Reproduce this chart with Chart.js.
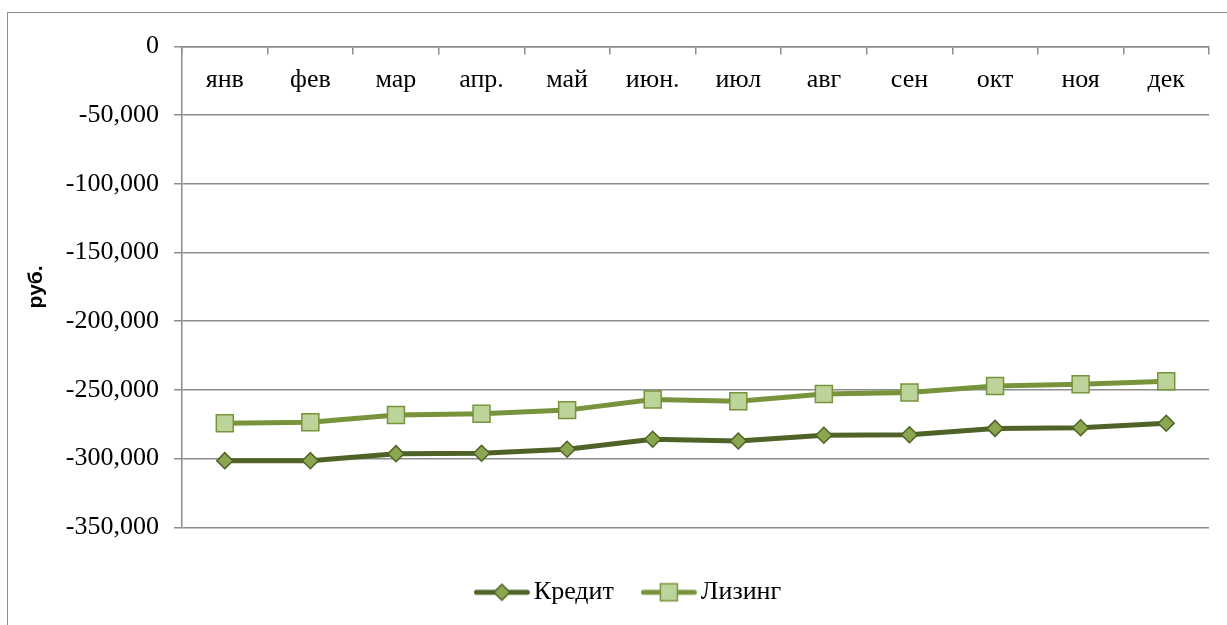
<!DOCTYPE html>
<html><head><meta charset="utf-8">
<script src="https://cdn.jsdelivr.net/npm/chart.js"></script>
<style>
html,body{margin:0;padding:0;background:#fff;overflow:hidden;width:1227px;height:625px}
#frame{position:absolute;left:7px;top:12px;width:1400px;height:800px;border:1px solid #8c8c8c;box-sizing:border-box}
#wrap{position:absolute;left:0;top:0;width:1227px;height:625px}
</style></head><body>
<div id="frame"></div>
<div id="wrap"><canvas id="c"></canvas></div>
<script>
const categories = ['янв','фев','мар','апр.','май','июн.','июл','авг','сен','окт','ноя','дек'];
const kredit = [-301500, -301500, -296400, -296100, -293200, -285900, -287200, -283000, -282600, -278000, -277500, -274300];
const lizing = [-274300, -273600, -268300, -267400, -264700, -256900, -258200, -252900, -251900, -247100, -245800, -243700];
const seriesNames = ['Кредит', 'Лизинг'];
const yAxisTitle = 'руб.';

const serif = 'Liberation Serif';
const grey = '#8c8c8c';

function diamond(g, x, y, r) {
  g.beginPath(); g.moveTo(x, y - r); g.lineTo(x + r, y); g.lineTo(x, y + r); g.lineTo(x - r, y); g.closePath();
  g.fillStyle = '#8aa64f'; g.fill(); g.lineWidth = 1.5; g.strokeStyle = '#4f6228'; g.stroke();
}
function square(g, x, y, s) {
  g.fillStyle = '#bcd39a'; g.fillRect(x - s / 2, y - s / 2, s, s);
  g.lineWidth = 1.5; g.strokeStyle = '#77933c'; g.strokeRect(x - s / 2, y - s / 2, s, s);
}
function legendImage(lineColor, marker) {
  const c = document.createElement('canvas'); c.width = 72; c.height = 26;
  const g = c.getContext('2d');
  g.strokeStyle = lineColor; g.lineWidth = 5; g.lineCap = 'round';
  g.beginPath(); g.moveTo(2.5, 13); g.lineTo(53.5, 13); g.stroke();
  marker(g, 28, 13);
  return c;
}
const legendImages = [
  legendImage('#4f6228', (g, x, y) => diamond(g, x, y, 8)),
  legendImage('#77933c', (g, x, y) => square(g, x, y, 17))
];

new Chart(document.getElementById('c'), {
  type: 'line',
  data: {
    labels: categories,
    datasets: [
      { label: seriesNames[0], data: kredit, borderColor: '#4f6228', borderWidth: 5, tension: 0,
        pointStyle: 'rectRot', pointRadius: 8, pointHoverRadius: 8,
        pointBackgroundColor: '#8aa64f', pointBorderColor: '#4f6228', pointBorderWidth: 1.5 },
      { label: seriesNames[1], data: lizing, borderColor: '#77933c', borderWidth: 5, tension: 0,
        pointStyle: 'rect', pointRadius: 12, pointHoverRadius: 12,
        pointBackgroundColor: '#bcd39a', pointBorderColor: '#77933c', pointBorderWidth: 1.5 }
    ]
  },
  options: {
    responsive: true, maintainAspectRatio: false, animation: false,
    layout: { padding: { left: 53, right: 0, top: 46.5, bottom: 9.7 } },
    plugins: {
      tooltip: { enabled: false },
      legend: {
        position: 'bottom',
        labels: {
          usePointStyle: true, pointStyleWidth: 22, padding: 52,
          font: { family: serif, size: 26 }, color: '#000',
          generateLabels(chart) {
            return chart.data.datasets.map((ds, i) => ({
              text: ds.label, pointStyle: legendImages[i], fillStyle: 'rgba(0,0,0,0)',
              strokeStyle: 'rgba(0,0,0,0)', lineWidth: 1, hidden: false, datasetIndex: i, fontColor: '#000'
            }));
          }
        }
      }
    },
    scales: {
      x: {
        type: 'category', position: { y: 0 }, offset: true,
        grid: { drawOnChartArea: false, tickLength: 7, color: grey, lineWidth: 1.5, offset: true },
        border: { color: grey, width: 1.5 },
        ticks: { font: { family: serif, size: 26 }, color: '#000', padding: 11, maxRotation: 0, autoSkip: false }
      },
      y: {
        position: 'left',
        min: -350000, max: 0,
        ticks: { stepSize: 50000, padding: 15, font: { family: serif, size: 26 }, color: '#000',
          callback: v => v.toLocaleString('en-US') },
        grid: { color: grey, lineWidth: 1.5, tickLength: 8 },
        border: { color: grey, width: 1.5 },
        title: { display: true, text: yAxisTitle, font: { family: 'Liberation Sans', size: 21, weight: 'bold' },
          color: '#000', padding: { top: -29.2, bottom: 0 } },
        afterFit(s) { s.width = 129; }
      },
      yRightSpacer: {
        position: 'right', display: true,
        grid: { display: false, drawOnChartArea: false, drawTicks: false },
        border: { display: false },
        ticks: { display: false },
        afterFit(s) { s.width = 18; }
      }
    }
  }
});
</script>
</body></html>
